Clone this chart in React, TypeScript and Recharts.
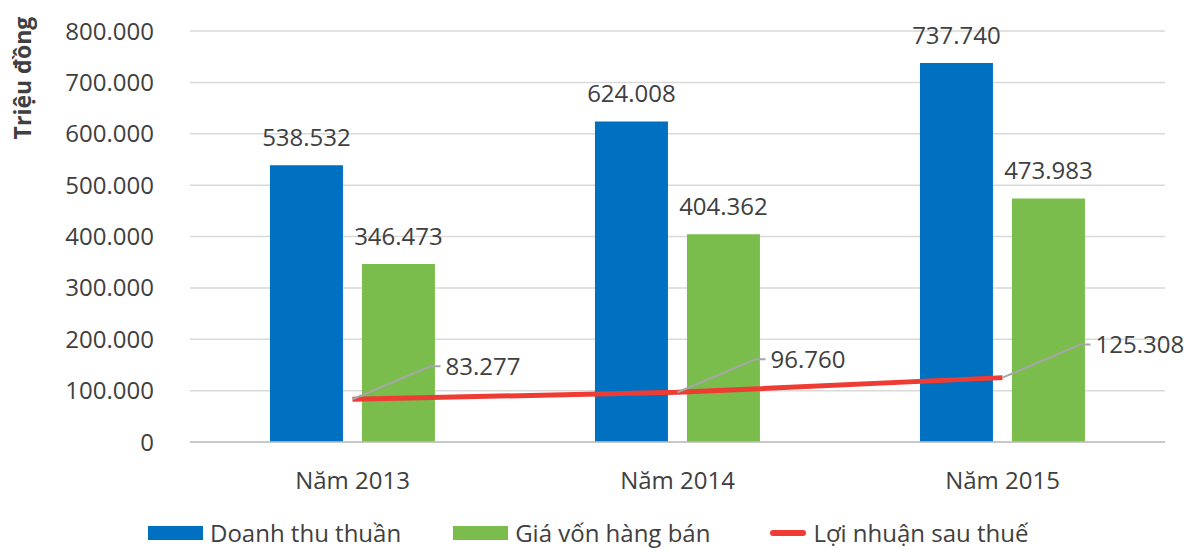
import React from 'react';
import { ComposedChart, Bar, Line, XAxis, YAxis, CartesianGrid, LabelList } from 'recharts';

const categories = ['Năm 2013', 'Năm 2014', 'Năm 2015'];
const revenue = [538532, 624008, 737740];
const cogs = [346473, 404362, 473983];
const profit = [83277, 96760, 125308];
const yTicks = [0, 100000, 200000, 300000, 400000, 500000, 600000, 700000, 800000];

const seriesNames = ['Doanh thu thuần', 'Giá vốn hàng bán', 'Lợi nhuận sau thuế'];
const colors = ['#0070C0', '#7ABD4C', '#EE3B33'];

const data = categories.map((c, i) => ({ name: c, revenue: revenue[i], cogs: cogs[i], profit: profit[i] }));

const fmt = (v: number) => {
  const s = Math.round(v).toString();
  return s.replace(/\B(?=(\d{3})+(?!\d))/g, '.');
};

const FONT = '"Open Sans", sans-serif';
const TXT = '#404040';
const FS = 24;

const LineLabel = (props: any) => {
  const { x, y, value } = props;
  if (x == null || y == null) return null;
  const ex = x + 78;
  const ey = y - 33;
  return (
    <g>
      <polyline points={`${x},${y} ${ex},${ey} ${ex + 10},${ey}`} fill="none" stroke="#A6A6A6" strokeWidth={2} />
      <text x={ex + 15} y={ey} dy="0.35em" fill={TXT} fontSize={FS} fontFamily={FONT}>{fmt(value)}</text>
    </g>
  );
};

const LegendBox = () => (
  <div style={{ position: 'absolute', left: 148, top: 518, height: 30, lineHeight: '30px', display: 'flex', alignItems: 'center', fontFamily: FONT, fontSize: FS, color: TXT, whiteSpace: 'nowrap' }}>
    <span style={{ display: 'inline-block', width: 55, height: 14, background: colors[0], marginRight: 7 }} />
    <span style={{ marginRight: 52 }}>{seriesNames[0]}</span>
    <span style={{ display: 'inline-block', width: 55, height: 14, background: colors[1], marginRight: 7 }} />
    <span style={{ marginRight: 60 }}>{seriesNames[1]}</span>
    <span style={{ display: 'inline-block', width: 36, height: 6, borderRadius: 3, background: colors[2], marginRight: 7 }} />
    <span>{seriesNames[2]}</span>
  </div>
);

export default function App() {
  return (
    <div style={{ position: 'absolute', left: 0, top: 0, width: 1185, height: 550, background: '#fff', overflow: 'hidden' }}>
      <ComposedChart
        width={1185}
        height={550}
        data={data}
        margin={{ top: 31, right: 20, bottom: 78, left: 90 }}
        barCategoryGap="24.6%"
        barGap={19}
      >
        <CartesianGrid vertical={false} stroke="#D9D9D9" strokeWidth={1.5} />
        <XAxis
          dataKey="name"
          axisLine={{ stroke: '#BFBFBF', strokeWidth: 1.5 }}
          tickLine={false}
          tickMargin={24}
          tick={{ fill: TXT, fontSize: FS, fontFamily: FONT }}
        />
        <YAxis
          width={100}
          domain={[0, 800000]}
          ticks={yTicks}
          interval={0}
          axisLine={false}
          tickLine={false}
          tickMargin={30}
          tickFormatter={fmt}
          tick={{ fill: TXT, fontSize: FS, fontFamily: FONT }}
        />
        <Bar dataKey="revenue" name={seriesNames[0]} fill={colors[0]} isAnimationActive={false}>
          <LabelList dataKey="revenue" position="top" offset={19} formatter={fmt} fill={TXT} fontSize={FS} fontFamily={FONT} />
        </Bar>
        <Bar dataKey="cogs" name={seriesNames[1]} fill={colors[1]} isAnimationActive={false}>
          <LabelList dataKey="cogs" position="top" offset={19} formatter={fmt} fill={TXT} fontSize={FS} fontFamily={FONT} />
        </Bar>
        <Line
          dataKey="profit"
          name={seriesNames[2]}
          stroke={colors[2]}
          strokeWidth={5}
          dot={false}
          type="linear"
          isAnimationActive={false}
        >
          <LabelList dataKey="profit" content={<LineLabel />} />
        </Line>
      </ComposedChart>
      <LegendBox />
      <div
        style={{
          position: 'absolute', left: 22, top: 78, transform: 'translate(-50%, -50%) rotate(-90deg)',
          fontFamily: FONT, fontWeight: 'bold', fontSize: 23, color: TXT, whiteSpace: 'nowrap',
        }}
      >
        Triệu đồng
      </div>
    </div>
  );
}
